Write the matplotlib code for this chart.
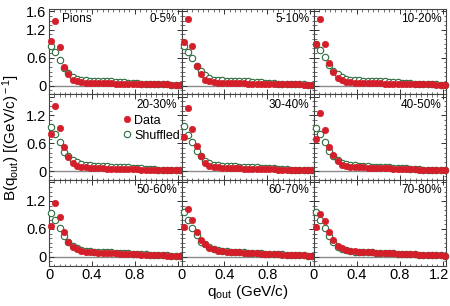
import numpy as np
import matplotlib
matplotlib.use("Agg")
import matplotlib.pyplot as plt
from matplotlib.ticker import MultipleLocator, FixedLocator, NullFormatter
import matplotlib.transforms as mtransforms

plt.rcParams['font.family'] = ['Liberation Sans', 'DejaVu Sans']
plt.rcParams['mathtext.fontset'] = 'custom'
plt.rcParams['mathtext.rm'] = 'Liberation Sans'
plt.rcParams['mathtext.it'] = 'Liberation Sans'

q = [0.02, 0.06, 0.10, 0.14, 0.18, 0.22, 0.26, 0.30, 0.34, 0.38, 0.42, 0.46,
     0.50, 0.54, 0.58, 0.62, 0.66, 0.70, 0.74, 0.78, 0.82, 0.86, 0.90, 0.94,
     0.98, 1.02, 1.06, 1.10, 1.14, 1.18, 1.22]

centralities = ["0-5%", "5-10%", "10-20%", "20-30%", "30-40%", "40-50%",
                "50-60%", "60-70%", "70-80%"]

x_ticks = [0, 0.4, 0.8, 1.2]
x_ticklabels = ['0', '0.4', '0.8', '1.2']
y_ticks = [0, 0.6, 1.2, 1.6]
y_ticklabels = ['0', '0.6', '1.2', '1.6']

data_0_5 = [0.97, 1.40, 0.83, 0.40, 0.24, 0.13, 0.09, 0.07, 0.06, 0.06, 0.055, 0.055, 0.05, 0.05, 0.05, 0.045,
            0.045, 0.04, 0.04, 0.04, 0.035, 0.035, 0.03, 0.03, 0.03, 0.025, 0.025, 0.025, 0.02, 0.02, 0.02]
shuf_0_5 = [0.85, 0.72, 0.56, 0.38, 0.27, 0.19, 0.14, 0.12, 0.11, 0.105, 0.10, 0.10, 0.095, 0.09, 0.09, 0.085,
            0.08, 0.07, 0.065, 0.06, 0.05, 0.045, 0.04, 0.035, 0.03, 0.03, 0.025, 0.025, 0.02, 0.02, 0.02]

data_5_10 = [0.93, 1.44, 0.85, 0.43, 0.24, 0.13, 0.09, 0.07, 0.06, 0.06, 0.055, 0.055, 0.05, 0.05, 0.05, 0.045,
             0.045, 0.04, 0.04, 0.04, 0.035, 0.035, 0.03, 0.03, 0.03, 0.025, 0.025, 0.025, 0.02, 0.02, 0.02]
shuf_5_10 = [0.86, 0.72, 0.60, 0.42, 0.31, 0.22, 0.17, 0.13, 0.12, 0.11, 0.105, 0.10, 0.10, 0.095, 0.09, 0.09,
             0.085, 0.08, 0.07, 0.065, 0.06, 0.05, 0.045, 0.04, 0.035, 0.03, 0.03, 0.025, 0.025, 0.02, 0.02]

data_10_20 = [0.90, 1.44, 0.90, 0.49, 0.29, 0.165, 0.11, 0.08, 0.07, 0.065, 0.06, 0.06, 0.055, 0.055, 0.05, 0.05,
              0.045, 0.045, 0.04, 0.04, 0.035, 0.035, 0.03, 0.03, 0.03, 0.025, 0.025, 0.025, 0.02, 0.02, 0.02]
shuf_10_20 = [0.90, 0.77, 0.62, 0.45, 0.32, 0.24, 0.19, 0.15, 0.13, 0.12, 0.11, 0.105, 0.10, 0.10, 0.095, 0.09,
              0.09, 0.085, 0.08, 0.07, 0.065, 0.06, 0.05, 0.045, 0.04, 0.035, 0.03, 0.03, 0.025, 0.02, 0.02]

data_20_30 = [0.79, 1.40, 0.92, 0.52, 0.30, 0.18, 0.12, 0.09, 0.08, 0.07, 0.065, 0.06, 0.06, 0.055, 0.055, 0.05,
              0.05, 0.045, 0.045, 0.04, 0.04, 0.035, 0.035, 0.03, 0.03, 0.025, 0.025, 0.02, 0.02, 0.02, 0.02]
shuf_20_30 = [0.95, 0.79, 0.62, 0.42, 0.32, 0.24, 0.19, 0.16, 0.14, 0.13, 0.12, 0.115, 0.11, 0.105, 0.10, 0.095,
              0.09, 0.085, 0.08, 0.07, 0.065, 0.06, 0.05, 0.045, 0.04, 0.035, 0.03, 0.03, 0.025, 0.02, 0.02]

data_30_40 = [0.73, 1.36, 0.91, 0.55, 0.32, 0.18, 0.12, 0.09, 0.08, 0.075, 0.07, 0.065, 0.06, 0.06, 0.055, 0.055,
              0.05, 0.05, 0.045, 0.045, 0.04, 0.04, 0.035, 0.035, 0.03, 0.03, 0.025, 0.025, 0.02, 0.02, 0.02]
shuf_30_40 = [0.97, 0.78, 0.62, 0.44, 0.32, 0.22, 0.17, 0.14, 0.13, 0.12, 0.115, 0.11, 0.105, 0.10, 0.095, 0.09,
              0.085, 0.08, 0.075, 0.07, 0.065, 0.06, 0.05, 0.045, 0.04, 0.035, 0.03, 0.03, 0.025, 0.02, 0.02]

data_40_50 = [0.70, 1.25, 0.89, 0.52, 0.34, 0.22, 0.14, 0.11, 0.10, 0.09, 0.085, 0.08, 0.075, 0.07, 0.07, 0.065,
              0.06, 0.06, 0.055, 0.05, 0.05, 0.045, 0.04, 0.04, 0.035, 0.03, 0.03, 0.025, 0.025, 0.02, 0.02]
shuf_40_50 = [0.92, 0.79, 0.62, 0.43, 0.32, 0.23, 0.18, 0.15, 0.13, 0.125, 0.12, 0.11, 0.105, 0.10, 0.095, 0.09,
              0.085, 0.08, 0.075, 0.07, 0.065, 0.06, 0.05, 0.045, 0.04, 0.035, 0.03, 0.03, 0.025, 0.02, 0.02]

data_50_60 = [0.67, 1.16, 0.85, 0.54, 0.32, 0.22, 0.16, 0.12, 0.10, 0.10, 0.095, 0.09, 0.09, 0.085, 0.08, 0.075,
              0.07, 0.065, 0.06, 0.055, 0.05, 0.045, 0.04, 0.035, 0.035, 0.03, 0.03, 0.025, 0.025, 0.02, 0.02]
shuf_50_60 = [0.95, 0.80, 0.61, 0.44, 0.32, 0.23, 0.18, 0.14, 0.12, 0.115, 0.11, 0.11, 0.105, 0.10, 0.095, 0.09,
              0.085, 0.08, 0.075, 0.07, 0.06, 0.055, 0.05, 0.045, 0.04, 0.035, 0.03, 0.03, 0.025, 0.02, 0.02]

data_60_70 = [0.64, 1.02, 0.79, 0.54, 0.36, 0.27, 0.19, 0.16, 0.13, 0.12, 0.11, 0.10, 0.10, 0.095, 0.09, 0.085,
              0.08, 0.075, 0.07, 0.065, 0.06, 0.055, 0.05, 0.045, 0.04, 0.04, 0.035, 0.03, 0.03, 0.025, 0.025]
shuf_60_70 = [0.97, 0.79, 0.61, 0.46, 0.32, 0.27, 0.20, 0.16, 0.14, 0.12, 0.115, 0.11, 0.105, 0.10, 0.095, 0.09,
              0.085, 0.08, 0.075, 0.07, 0.065, 0.06, 0.055, 0.05, 0.045, 0.04, 0.035, 0.03, 0.03, 0.025, 0.025]

data_70_80 = [0.65, 0.93, 0.77, 0.54, 0.36, 0.24, 0.18, 0.15, 0.13, 0.12, 0.11, 0.10, 0.10, 0.095, 0.09, 0.085,
              0.08, 0.08, 0.075, 0.07, 0.065, 0.06, 0.055, 0.05, 0.045, 0.04, 0.04, 0.035, 0.03, 0.03, 0.025]
shuf_70_80 = [0.97, 0.79, 0.62, 0.45, 0.31, 0.22, 0.17, 0.14, 0.12, 0.11, 0.105, 0.10, 0.10, 0.095, 0.09, 0.09,
              0.085, 0.08, 0.075, 0.07, 0.065, 0.06, 0.055, 0.05, 0.045, 0.04, 0.04, 0.035, 0.03, 0.03, 0.025]

data_sets = [data_0_5, data_5_10, data_10_20, data_20_30, data_30_40, data_40_50,
             data_50_60, data_60_70, data_70_80]
shuf_sets = [shuf_0_5, shuf_5_10, shuf_10_20, shuf_20_30, shuf_30_40, shuf_40_50,
             shuf_50_60, shuf_60_70, shuf_70_80]

red = '#d41f2b'
green = '#2d6b3c'

fig, axes = plt.subplots(3, 3, figsize=(4.5, 3.06), dpi=100)
fig.subplots_adjust(left=0.109, right=0.992, bottom=0.132, top=0.971, wspace=0, hspace=0)

for i, ax in enumerate(axes.flat):
    r, c = divmod(i, 3)
    ax.axhline(0, color='#8a8a8a', lw=1.0, zorder=1)
    ax.plot(q, shuf_sets[i], 'o', ms=4.6, mfc='white', mec=green, mew=0.8,
            label='Shuffled', zorder=3, clip_on=False)
    ax.plot(q, data_sets[i], 'o', ms=4.6, mfc=red, mec=red, mew=0.5,
            label='Data', zorder=4, clip_on=False)
    ax.set_xlim(0, 1.235)
    ax.set_ylim(-0.19, 1.65)
    ax.set_xticks(x_ticks)
    ax.set_yticks(y_ticks)
    ax.xaxis.set_minor_locator(MultipleLocator(0.05))
    ax.yaxis.set_minor_locator(MultipleLocator(0.1))
    ax.tick_params(which='both', direction='in', top=True, right=True,
                   labelsize=10.5, pad=2, color='#333333')
    ax.tick_params(which='major', length=3.5, width=0.7)
    ax.tick_params(which='minor', length=1.8, width=0.5)
    for s in ax.spines.values():
        s.set_color('#444444')
        s.set_linewidth(0.8)
    ax.text(0.965, 0.95, centralities[i], transform=ax.transAxes,
            ha='right', va='top', fontsize=8.5)

    if c == 0:
        labs = list(y_ticklabels) if r == 0 else y_ticklabels[:3] + ['']
        ax.set_yticklabels(labs)
    else:
        ax.set_yticklabels([''] * len(y_ticks))
    if r == 2:
        labs = list(x_ticklabels) if c == 2 else x_ticklabels[:3] + ['']
        ax.set_xticklabels(labs)
        if c == 2:
            lab = ax.get_xticklabels()[-1]
            lab.set_horizontalalignment('right')
            lab.set_transform(lab.get_transform() +
                              mtransforms.ScaledTranslation(5 / 72, 0, fig.dpi_scale_trans))
    else:
        ax.set_xticklabels([''] * len(x_ticks))

axes[0, 0].text(0.1, 0.95, 'Pions', transform=axes[0, 0].transAxes,
                ha='left', va='top', fontsize=8.5)

h, l = axes[1, 0].get_legend_handles_labels()
axes[1, 0].legend([h[1], h[0]], [l[1], l[0]], loc='upper left',
                  bbox_to_anchor=(0.52, 0.78), frameon=False, fontsize=9,
                  handletextpad=0.0, handlelength=1.2, borderaxespad=0,
                  labelspacing=0.25, borderpad=0.1)

fig.text(0.026, 0.55, r'B(q$_{\rm out}$) [(GeV/c)$^{\rm -1}$]', rotation=90,
         ha='center', va='center', fontsize=11)
fig.text(0.55, 0.045, r'q$_{\rm out}$ (GeV/c)', ha='center', va='center', fontsize=11)

fig.savefig('out.png', dpi=100)
